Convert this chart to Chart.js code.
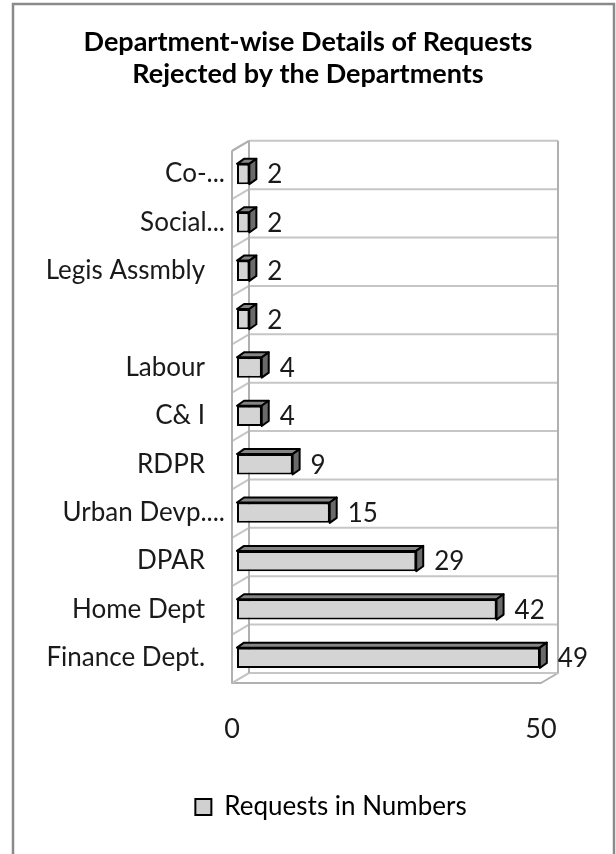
<!DOCTYPE html>
<html>
<head>
<meta charset="utf-8">
<script src="https://cdn.jsdelivr.net/npm/chart.js@4/dist/chart.umd.min.js"></script>
<style>
  html, body { margin: 0; padding: 0; background: #fff; }
  #wrap { width: 616px; height: 854px; position: relative; }
</style>
</head>
<body>
<div id="wrap"><canvas id="c"></canvas></div>
<script>
// ---- data ----
const categories = ['Co-...', 'Social...', 'Legis Assmbly', '', 'Labour', 'C& I', 'RDPR', 'Urban Devp....', 'DPAR', 'Home Dept', 'Finance Dept.'];
const requests = [2, 2, 2, 2, 4, 4, 9, 15, 29, 42, 49];
const xTickValues = [0, 50];
const seriesName = 'Requests in Numbers';
const titleLines = ['Department-wise Details of Requests', 'Rejected by the Departments'];

// ---- style constants ----
const FONT = 'Lato, "Open Sans", sans-serif';
const DEPTH_DX = 7, DEPTH_DY = -5;          // bar 3D depth
const BACK_DX = 12, BACK_DY = -9;           // back wall offset from bar plane
const FRONT_DX = -5, FRONT_DY = 1;          // front edge offset from bar plane
const WALL_COLOR = '#b0b0b0';
const GRID_COLOR = '#c6c6c6';

function frontGradient(ctx, top, bottom) {
  const g = ctx.createLinearGradient(0, top, 0, bottom);
  g.addColorStop(0, '#ececec');
  g.addColorStop(0.5, '#d6d6d6');
  g.addColorStop(1, '#c0c0c0');
  return g;
}

const decor3d = {
  id: 'decor3d',
  afterLayout(chart) {
    // title centred on the whole frame, legend centred a little right (as in the reference)
    if (chart.titleBlock) { chart.titleBlock.left = 0; chart.titleBlock.right = 616; }
    if (chart.legend) { chart.legend.left = 46; chart.legend.right = 616; }
  },
  beforeDraw(chart) {
    const ctx = chart.ctx;
    ctx.save();
    ctx.fillStyle = '#fff';
    ctx.fillRect(0, 0, chart.width, chart.height);
    ctx.strokeStyle = '#8a8a8a';
    ctx.lineWidth = 2.5;
    ctx.strokeRect(13, 4, 601, 900);
    ctx.restore();
  },
  beforeDatasetsDraw(chart) {
    const ctx = chart.ctx;
    const xs = chart.scales.x, ys = chart.scales.y;
    const x0 = xs.getPixelForValue(0), x1 = xs.getPixelForValue(50);
    const n = categories.length;
    const band = ys.getPixelForValue(1) - ys.getPixelForValue(0);
    const bounds = [];
    for (let i = 0; i <= n; i++) bounds.push(ys.getPixelForValue(i) - band / 2);
    const top = bounds[0], bot = bounds[n];
    ctx.save();
    ctx.lineJoin = 'round';
    ctx.beginPath();
    ctx.moveTo(x0 + BACK_DX, bot + BACK_DY);
    ctx.lineTo(x1 + BACK_DX, bot + BACK_DY);
    ctx.lineTo(x1 + FRONT_DX, bot + FRONT_DY);
    ctx.lineTo(x0 + FRONT_DX, bot + FRONT_DY);
    ctx.closePath();
    ctx.fillStyle = '#fff';
    ctx.fill();
    ctx.strokeStyle = WALL_COLOR;
    ctx.lineWidth = 2;
    ctx.stroke();
    ctx.strokeStyle = GRID_COLOR;
    ctx.lineWidth = 2;
    for (let i = 0; i <= n; i++) {
      const yb = bounds[i];
      ctx.beginPath();
      ctx.moveTo(x0 + FRONT_DX, yb + FRONT_DY);
      ctx.lineTo(x0 + BACK_DX, yb + BACK_DY);
      ctx.lineTo(x1 + BACK_DX, yb + BACK_DY);
      ctx.stroke();
    }
    ctx.strokeStyle = WALL_COLOR;
    ctx.beginPath();
    ctx.moveTo(x1 + BACK_DX, top + BACK_DY);
    ctx.lineTo(x1 + BACK_DX, bot + BACK_DY);
    ctx.moveTo(x0 + BACK_DX, top + BACK_DY);
    ctx.lineTo(x0 + BACK_DX, bot + BACK_DY);
    ctx.moveTo(x0 + FRONT_DX, top + FRONT_DY);
    ctx.lineTo(x0 + FRONT_DX, bot + FRONT_DY);
    ctx.moveTo(x0 + FRONT_DX, top + FRONT_DY);
    ctx.lineTo(x0 + BACK_DX, top + BACK_DY);
    ctx.stroke();
    ctx.restore();
  },
  afterDatasetsDraw(chart) {
    const ctx = chart.ctx;
    const meta = chart.getDatasetMeta(0);
    ctx.save();
    ctx.lineJoin = 'round';
    ctx.lineWidth = 2;
    ctx.strokeStyle = '#000';
    meta.data.forEach((bar, i) => {
      const p = bar.getProps(['x', 'y', 'base', 'height'], true);
      const t = p.y - p.height / 2, b = p.y + p.height / 2;
      const l = p.base, r = p.x;
      ctx.beginPath();
      ctx.moveTo(l, t);
      ctx.lineTo(l + DEPTH_DX, t + DEPTH_DY);
      ctx.lineTo(r + DEPTH_DX, t + DEPTH_DY);
      ctx.lineTo(r, t);
      ctx.closePath();
      ctx.fillStyle = '#858585';
      ctx.fill();
      ctx.stroke();
      ctx.beginPath();
      ctx.moveTo(r, t);
      ctx.lineTo(r + DEPTH_DX, t + DEPTH_DY);
      ctx.lineTo(r + DEPTH_DX, b + DEPTH_DY);
      ctx.lineTo(r, b);
      ctx.closePath();
      ctx.fillStyle = '#6a6a6a';
      ctx.fill();
      ctx.stroke();
      ctx.fillStyle = '#1a1a1a';
      ctx.font = '26px ' + FONT;
      ctx.textAlign = 'left';
      ctx.textBaseline = 'middle';
      ctx.fillText(String(requests[i]), r + DEPTH_DX + 11, p.y + 1);
    });
    ctx.restore();
  }
};

new Chart(document.getElementById('c'), {
  type: 'bar',
  data: {
    labels: categories,
    datasets: [{
      label: seriesName,
      data: requests,
      backgroundColor: (c) => {
        const el = c.element;
        if (!el || c.type !== 'data') return '#d4d4d4';
        const p = el.getProps(['y', 'height'], true);
        if (!isFinite(p.y) || !isFinite(p.height)) return '#d4d4d4';
        return frontGradient(c.chart.ctx, p.y - p.height / 2, p.y + p.height / 2);
      },
      borderColor: '#000',
      borderWidth: 2,
      borderSkipped: false,
      categoryPercentage: 1,
      barPercentage: 0.42
    }]
  },
  plugins: [decor3d],
  options: {
    indexAxis: 'y',
    responsive: true,
    maintainAspectRatio: false,
    animation: false,
    layout: { padding: { left: 0, right: 70, top: 0, bottom: 24 } },
    scales: {
      x: {
        type: 'linear',
        min: 0, max: 50,
        afterBuildTicks: (s) => { s.ticks = xTickValues.map(v => ({ value: v })); },
        afterFit: (s) => { s.height = 102; },
        grid: { display: false, drawTicks: false },
        border: { display: false },
        ticks: { font: { family: FONT, size: 27 }, color: '#1a1a1a', padding: 31, labelOffset: -5 }
      },
      y: {
        type: 'category',
        offset: true,
        afterFit: (s) => { s.width = 237; },
        grid: { display: false, drawTicks: false },
        border: { display: false },
        ticks: {
          font: { family: FONT, size: 26 }, color: '#1a1a1a', padding: 12,
          autoSkip: false,
          callback: function (v, i) {
            const lab = categories[i];
            return lab.endsWith('...') ? lab : lab + '   ';
          }
        }
      }
    },
    plugins: {
      title: {
        display: true,
        text: titleLines,
        font: { family: FONT, size: 27, weight: 'bold' },
        color: '#000',
        lineHeight: 1.19,
        padding: { top: 26, bottom: 59 }
      },
      legend: {
        position: 'bottom',
        labels: {
          font: { family: FONT, size: 26 },
          color: '#1a1a1a',
          boxWidth: 16, boxHeight: 16,
          padding: 10,
          generateLabels: (chart) => [{
            text: seriesName,
            fillStyle: '#d0d0d0',
            strokeStyle: '#000',
            lineWidth: 2,
            datasetIndex: 0,
            hidden: false
          }]
        }
      },
      tooltip: { enabled: false }
    }
  }
});
</script>
</body>
</html>
